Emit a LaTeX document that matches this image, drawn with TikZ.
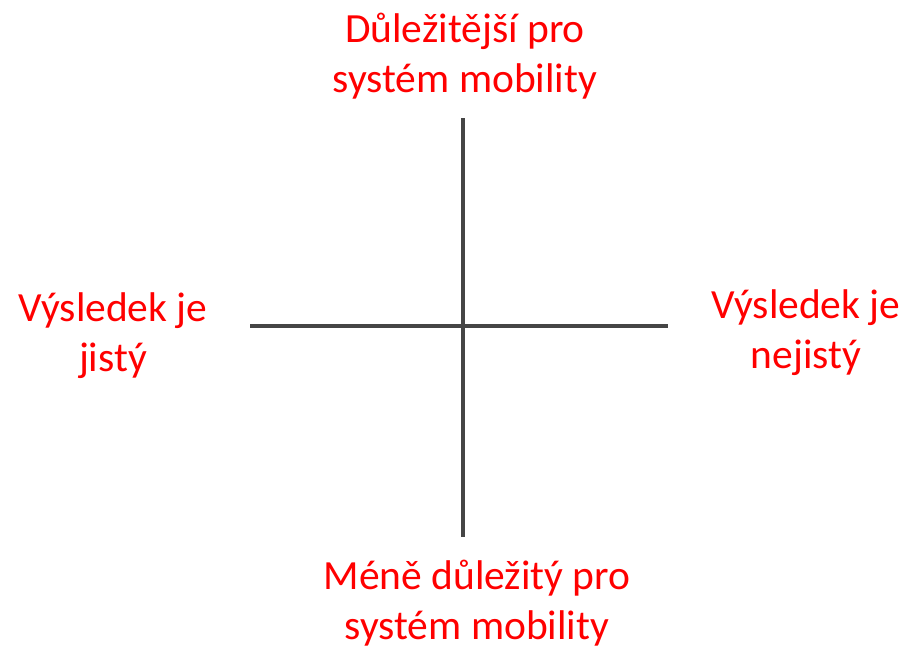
\documentclass[tikz,border=0pt]{standalone}
\usepackage{fontspec}
\setmainfont{Carlito}
\usetikzlibrary{positioning}

\definecolor{axisgray}{HTML}{454545}
\definecolor{labelred}{HTML}{FF0000}

\begin{document}
\begin{tikzpicture}[
  x=1pt, y=1pt,
  axis/.style={draw=axisgray, line width=3.2pt},
  lbl/.style={text=labelred, align=center, inner sep=0pt,
    font=\fontsize{41.5}{50}\selectfont}
]
\useasboundingbox (0,0) rectangle (908,-648);
\coordinate (vtop) at (463,-118);
\coordinate (vbot) at (463,-537);
\coordinate (hleft) at (250,-326);
\coordinate (hright) at (668,-326);
\draw[axis] (vtop) -- (vbot);
\draw[axis] (hleft) -- (hright);
\node[lbl] (more) at (465,-56) {Důležitější pro\\systém mobility};
\node[lbl] (less) at (477,-603) {Méně důležitý pro\\systém mobility};
\node[lbl] (certain) at (113,-336) {Výsledek je\\jistý};
\node[lbl] (uncertain) at (806,-333) {Výsledek je\\nejistý};
\end{tikzpicture}
\end{document}
